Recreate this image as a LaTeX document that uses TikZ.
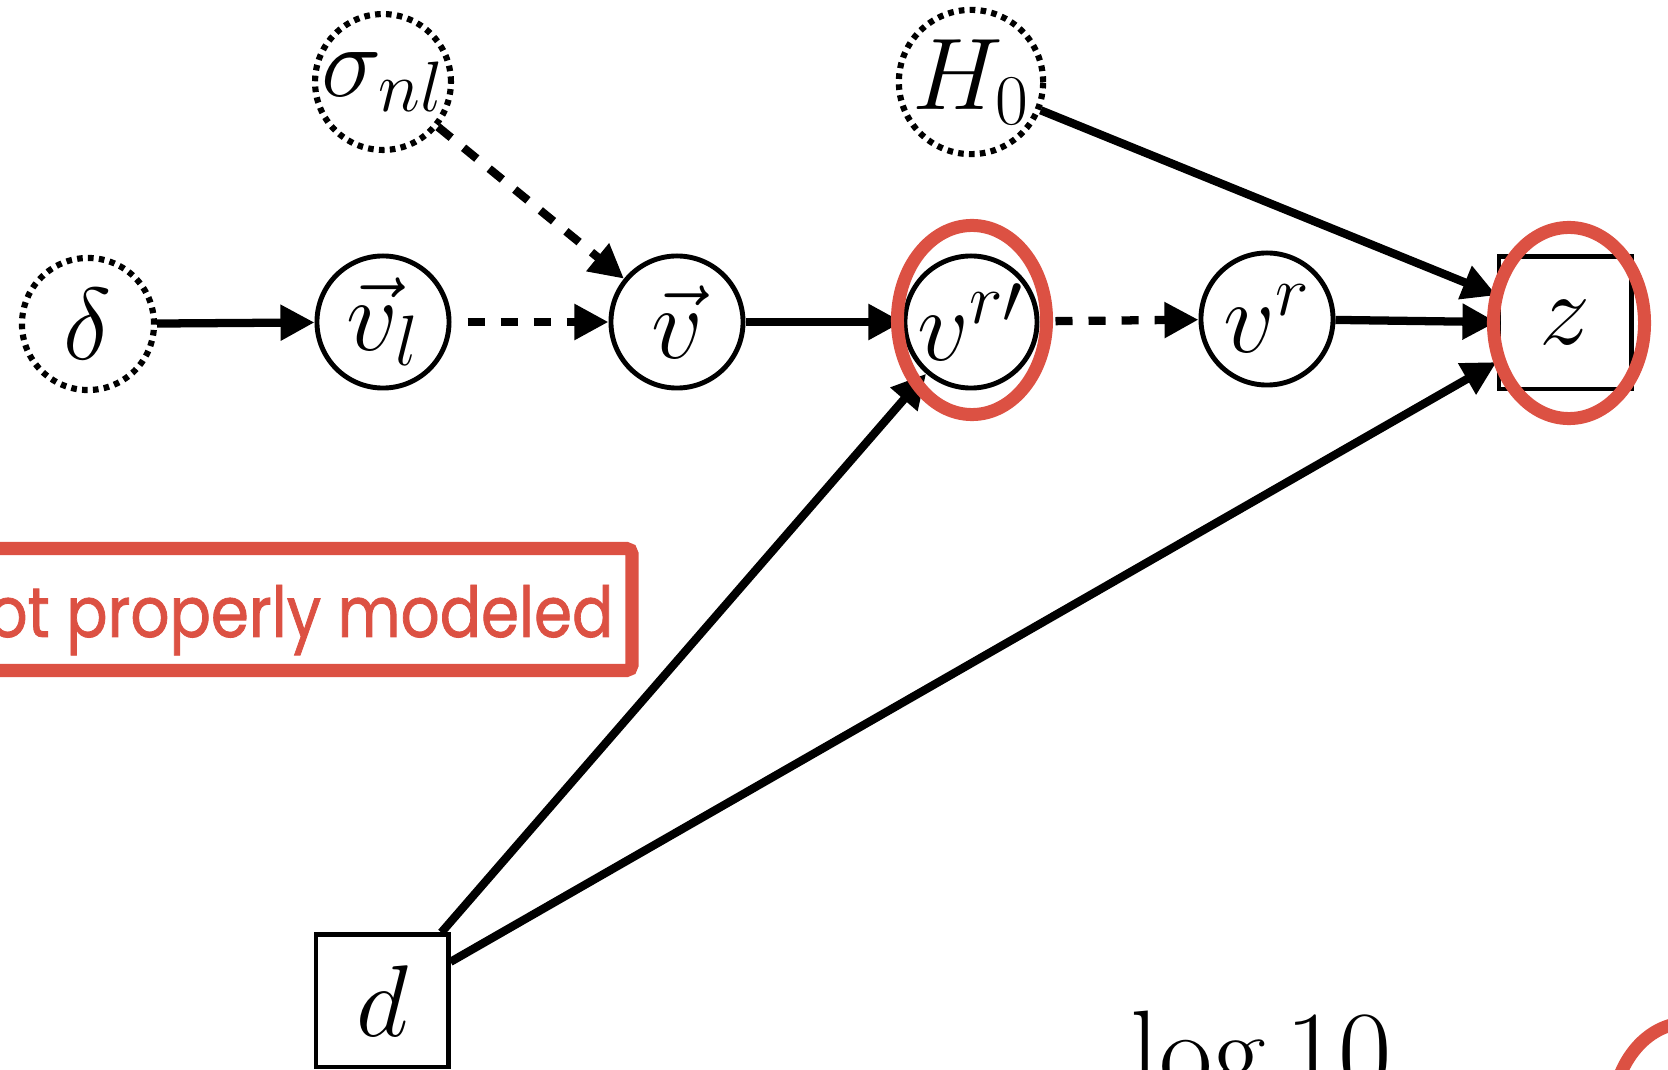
\RequirePackage{fix-cm}
\documentclass[tikz,border=0pt]{standalone}
\usepackage{fontspec}
\newfontfamily\slidefont[FakeBold=1.2]{Poppins}
\usetikzlibrary{arrows.meta,shapes.geometric}
\definecolor{annot}{RGB}{220,81,67}
\begin{document}
\begin{tikzpicture}[x=0.01cm,y=-0.01cm,
  mathfont/.style={font=\fontsize{29}{34}\selectfont},
  lat/.style={circle,draw,line width=1.4pt,minimum size=1.32cm,inner sep=0pt,mathfont},
  hyper/.style={lat,line width=1.75pt,dash pattern=on 1.6pt off 1.5pt},
  obs/.style={rectangle,draw,line width=1.4pt,minimum size=1.32cm,inner sep=0pt,mathfont},
  link/.style={line width=2.35pt,-{Triangle[length=0.34cm,width=0.34cm]}},
  dlink/.style={link,dash pattern=on 4.84pt off 4.55pt},
  hl/.style={draw=annot,line width=3.7pt}
]
\useasboundingbox (0,0) rectangle (1668,1070);
\clip (0,0) rectangle (1668,1070);

% nodes
\node[hyper] (delta) at (88,324) {$\delta$};
\node[hyper] (snl) at (383,82) {$\sigma_{nl}$};
\node[hyper] (H0) at (971,82) {$H_0$};
\node[lat] (vl) at (383,322) {$\vec{v}_l$};
\node[lat] (v) at (677,322) {$\vec{v}$};
\node[lat] (vrp) at (971,322) {$v^{r\prime}$};
\node[lat] (vr) at (1267,319) {$v^{r}$};
\node[obs] (z) at (1565,323) {$z$};
\node[obs] (d) at (382,1001) {$d$};

% connectors
\draw[link] (delta) -- (vl);
\draw[dlink, dash phase=4.84pt] (vl) -- (v);
\draw[dlink] (snl) -- (v);
\draw[link] (v) -- (vrp);
\draw[dlink, dash phase=4.84pt] (vrp) -- (vr);
\draw[link] (vr) -- (z);
\draw[link] (H0) -- (z);
\draw[link] (d) -- (vrp);
\draw[link] (d) -- (z);

% annotations
\draw[hl] (972,320) ellipse [x radius=0.745cm, y radius=0.945cm];
\draw[hl] (1569,323) ellipse [x radius=0.755cm, y radius=0.955cm];
\draw[hl] (1687,1118) ellipse [x radius=0.75cm, y radius=0.95cm];
\draw[hl, rounded corners=1.5pt] (-40,548.5) rectangle (632,670.5);
\node[anchor=base east, text=annot, inner sep=0pt, xscale=0.87,
      font=\slidefont\fontsize{20}{24}\selectfont] (note) at (614,637) {not properly modeled};

\node[anchor=base west, inner sep=0pt, font=\fontsize{33}{38}\selectfont] (logten) at (1130,1091) {$\log 10$};
\end{tikzpicture}
\end{document}
